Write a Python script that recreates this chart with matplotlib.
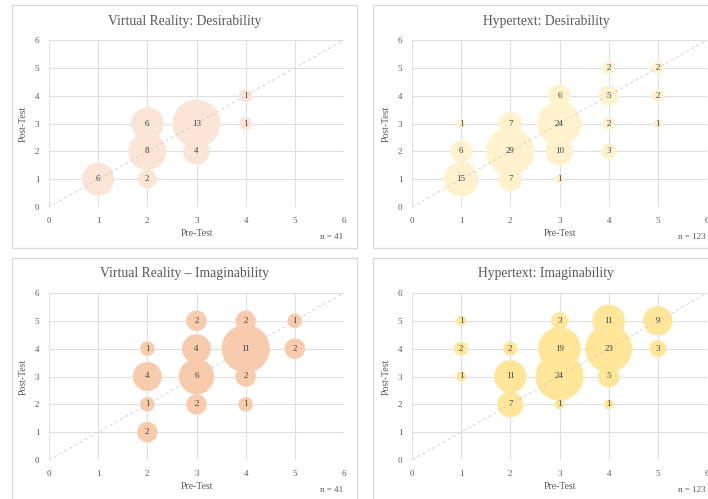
import numpy as np
import matplotlib
matplotlib.use("Agg")
import matplotlib.pyplot as plt
from matplotlib.patches import Rectangle

plt.rcParams['font.family'] = ['Liberation Serif', 'DejaVu Serif']

# datos: (pre, post, cuenta) por panel
vr_des_pre = [1, 2, 2, 2, 3, 3, 4, 4]
vr_des_post = [1, 1, 2, 3, 2, 3, 3, 4]
vr_des_n = [6, 2, 8, 6, 4, 13, 1, 1]

ht_des_pre = [1, 1, 1, 2, 2, 2, 3, 3, 3, 3, 4, 4, 4, 4, 5, 5, 5]
ht_des_post = [1, 2, 3, 1, 2, 3, 1, 2, 3, 4, 2, 3, 4, 5, 3, 4, 5]
ht_des_n = [15, 6, 1, 7, 29, 7, 1, 10, 24, 6, 3, 2, 5, 2, 1, 2, 2]

vr_img_pre = [2, 2, 2, 2, 3, 3, 3, 3, 4, 4, 4, 4, 5, 5]
vr_img_post = [1, 2, 3, 4, 2, 3, 4, 5, 2, 3, 4, 5, 4, 5]
vr_img_n = [2, 1, 4, 1, 2, 6, 4, 2, 1, 2, 11, 2, 2, 1]

ht_img_pre = [1, 1, 1, 2, 2, 2, 3, 3, 3, 3, 4, 4, 4, 4, 5, 5]
ht_img_post = [3, 4, 5, 2, 3, 4, 2, 3, 4, 5, 2, 3, 4, 5, 4, 5]
ht_img_n = [1, 2, 1, 7, 11, 2, 1, 24, 19, 3, 1, 5, 23, 11, 3, 9]

titles = ["Virtual Reality: Desirability", "Hypertext: Desirability",
          "Virtual Reality \u2013 Imaginability", "Hypertext: Imaginability"]
totals = ["n = 41", "n = 123", "n = 41", "n = 123"]
colors = ["#FBE5D6", "#FFF2CC", "#F8CBAD", "#FFE699"]

W, H = 708, 499
fig = plt.figure(figsize=(W / 100, H / 100), dpi=100)
fig.patch.set_facecolor('white')

txt = '#595959'
grid_c = '#E0E0E0'

# posiciones en pixeles: (izq, arriba) del area de trazado, caja del panel
panels = [
    (vr_des_pre, vr_des_post, vr_des_n, 49, 40, (12, 5, 357, 248)),
    (ht_des_pre, ht_des_post, ht_des_n, 412, 40, (373, 5, 720, 248)),
    (vr_img_pre, vr_img_post, vr_img_n, 49, 293, (12, 258, 357, 505)),
    (ht_img_pre, ht_img_post, ht_img_n, 412, 293, (373, 258, 720, 505)),
]

max_r_px = 24.0

for i, (px, py, cnt, x0, y0, box) in enumerate(panels):
    # caja gris alrededor del panel
    bx0, by0, bx1, by1 = box
    fig.add_artist(Rectangle((bx0 / W, 1 - by1 / H), (bx1 - bx0) / W, (by1 - by0) / H,
                             transform=fig.transFigure, fill=False,
                             edgecolor='#D9D9D9', lw=0.9, zorder=0))

    ax = fig.add_axes([x0 / W, 1 - (y0 + 167) / H, 295 / W, 167 / H])
    ax.set_xlim(0, 6)
    ax.set_ylim(0, 6)
    ax.set_xticks(range(7))
    ax.set_yticks(range(7))
    ax.grid(True, color=grid_c, lw=0.8, zorder=0)
    for s in ax.spines.values():
        s.set_visible(False)
    ax.tick_params(length=0, labelsize=6.5, labelcolor=txt, pad=7)
    ax.set_axisbelow(True)

    cnt = np.array(cnt, dtype=float)
    d_pt = 2 * max_r_px * 0.72
    sizes = d_pt ** 2 * cnt / cnt.max()
    ax.scatter(px, py, s=sizes, color=colors[i], edgecolors='none', zorder=2, clip_on=False)
    ax.plot([0, 6], [0, 6], ls=(0, (4, 3)), color='#D0D0D0', lw=0.6, zorder=3)
    for a, b, c in zip(px, py, cnt):
        ax.text(a, b, str(int(c)), ha='center', va='center', fontsize=6.5,
                color='#404040', zorder=4)

    ax.set_xlabel("Pre-Test", fontsize=7, color=txt, labelpad=3)
    ax.set_ylabel("Post-Test", fontsize=7, color=txt, labelpad=5)

    cx = (bx0 + bx1) / 2 if i % 2 == 0 else 546
    fig.text(cx / W, 1 - (by0 + 16) / H, titles[i], ha='center', va='center',
             fontsize=9.8, color=txt)
    fig.text((x0 + 294) / W, 1 - (y0 + 197) / H, totals[i], ha='right', va='center',
             fontsize=6.5, color=txt)

fig.savefig("out.png", dpi=100)
